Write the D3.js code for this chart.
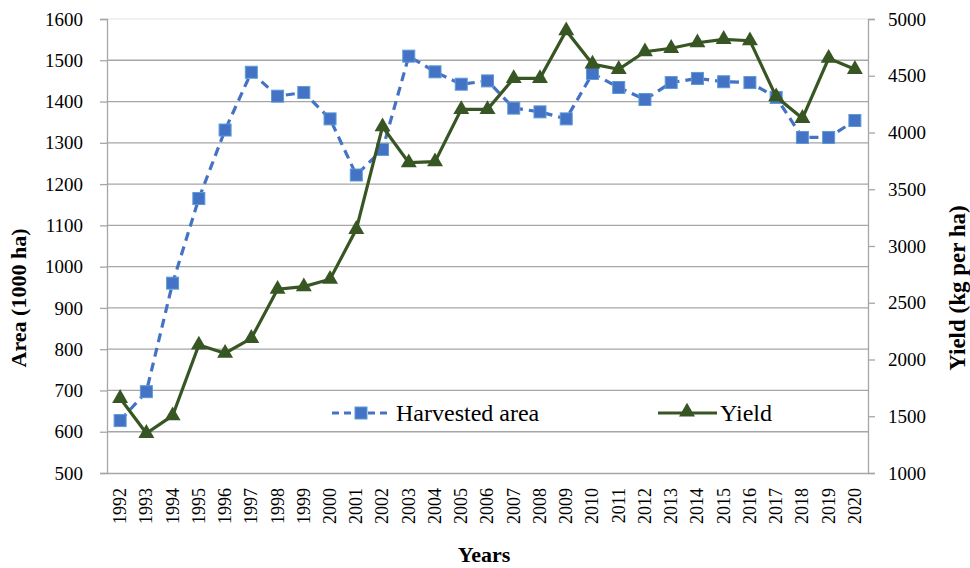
<!DOCTYPE html>
<html>
<head>
<meta charset="utf-8">
<script src="https://cdn.jsdelivr.net/npm/d3@7"></script>
<style>
  body { margin: 0; background: #fff; }
  svg { display: block; font-family: "Liberation Serif", "DejaVu Serif", serif; }
</style>
</head>
<body>
<svg width="970" height="568"></svg>
<script>
const years = ["1992","1993","1994","1995","1996","1997","1998","1999","2000","2001","2002","2003","2004","2005","2006","2007","2008","2009","2010","2011","2012","2013","2014","2015","2016","2017","2018","2019","2020"];
const harvestedArea = [627, 697, 960, 1165, 1331, 1471, 1413, 1422, 1358, 1222, 1284, 1510, 1472, 1442, 1450, 1384, 1375, 1358, 1468, 1434, 1405, 1446, 1456, 1448, 1446, 1410, 1313, 1313, 1354];
const yieldKg = [1658, 1350, 1505, 2128, 2055, 2187, 2619, 2642, 2707, 3147, 4051, 3734, 3743, 4204, 4204, 4477, 4477, 4897, 4604, 4557, 4712, 4742, 4791, 4821, 4809, 4316, 4125, 4654, 4557];
const areaTicks = [500, 600, 700, 800, 900, 1000, 1100, 1200, 1300, 1400, 1500, 1600];
const yieldTicks = [1000, 1500, 2000, 2500, 3000, 3500, 4000, 4500, 5000];

const plotLeft = 107, plotRight = 868, plotTop = 19, plotBottom = 473;
const blue = "#4472c4", green = "#375623";
const serif = "Liberation Serif";

const svg = d3.select("svg");

const x = d3.scaleBand().domain(years).range([plotLeft, plotRight]);
const yA = d3.scaleLinear().domain([500, 1600]).range([plotBottom, plotTop]);
const yY = d3.scaleLinear().domain([1000, 5000]).range([plotBottom, plotTop]);
const cx = d => x(d) + x.bandwidth() / 2;

// top border
svg.append("line")
  .attr("x1", plotLeft).attr("x2", plotRight).attr("y1", plotTop).attr("y2", plotTop)
  .attr("stroke", "#e3e3e3").attr("stroke-width", 1);

// gridlines
svg.append("g")
  .selectAll("line")
  .data(areaTicks.slice(1, -1))
  .join("line")
  .attr("x1", plotLeft).attr("x2", plotRight)
  .attr("y1", d => yA(d)).attr("y2", d => yA(d))
  .attr("stroke", "#a6a6a6").attr("stroke-width", 1.3);

// left axis
const axL = svg.append("g")
  .attr("transform", `translate(${plotLeft},0)`)
  .call(d3.axisLeft(yA).tickValues(areaTicks).tickSize(7).tickPadding(17).tickFormat(d3.format("d")));
axL.select(".domain").attr("stroke", "#a6a6a6").attr("stroke-width", 1.3);
axL.selectAll(".tick line").attr("stroke", "#a6a6a6").attr("stroke-width", 1.3);
axL.selectAll("text").attr("font-size", 19).attr("fill", "#000").attr("font-family", serif);

// right axis
const axR = svg.append("g")
  .attr("transform", `translate(${plotRight},0)`)
  .call(d3.axisRight(yY).tickValues(yieldTicks).tickSize(7).tickPadding(13).tickFormat(d3.format("d")));
axR.select(".domain").attr("stroke", "#a6a6a6").attr("stroke-width", 1.3);
axR.selectAll(".tick line").attr("stroke", "#a6a6a6").attr("stroke-width", 1.3);
axR.selectAll("text").attr("font-size", 19).attr("fill", "#000").attr("font-family", serif);

// bottom axis
const axB = svg.append("g")
  .attr("transform", `translate(0,${plotBottom})`)
  .call(d3.axisBottom(x).tickSize(0).tickPadding(0));
axB.select(".domain").attr("stroke", "#a6a6a6").attr("stroke-width", 1.3);
axB.selectAll("text")
  .attr("font-size", 18).attr("fill", "#000").attr("font-family", serif)
  .attr("text-anchor", "end")
  .attr("transform", "translate(0,15) rotate(-90)")
  .attr("x", 0).attr("y", 0).attr("dy", "0.33em");

// axis titles
svg.append("text")
  .attr("transform", "translate(26,298) rotate(-90)")
  .attr("text-anchor", "middle")
  .attr("font-family", serif).attr("font-size", 22).attr("font-weight", "bold")
  .text("Area (1000 ha)");
svg.append("text")
  .attr("transform", "translate(965,288) rotate(-90)")
  .attr("text-anchor", "middle")
  .attr("font-family", serif).attr("font-size", 23).attr("font-weight", "bold")
  .text("Yield (kg per ha)");
svg.append("text")
  .attr("x", 484).attr("y", 562)
  .attr("text-anchor", "middle")
  .attr("font-family", serif).attr("font-size", 22).attr("font-weight", "bold")
  .text("Years");

// harvested area series
const lineA = d3.line().x((d, i) => cx(years[i])).y(d => yA(d));
svg.append("path")
  .datum(harvestedArea)
  .attr("d", lineA)
  .attr("fill", "none").attr("stroke", blue).attr("stroke-width", 3.2)
  .attr("stroke-dasharray", "9,6");

const sq = 12;
svg.append("g")
  .selectAll("rect")
  .data(harvestedArea)
  .join("rect")
  .attr("x", (d, i) => cx(years[i]) - sq / 2)
  .attr("y", d => yA(d) - sq / 2)
  .attr("width", sq).attr("height", sq)
  .attr("fill", blue).attr("stroke", "#5b9bd5").attr("stroke-width", 1);

// yield series
const lineY = d3.line().x((d, i) => cx(years[i])).y(d => yY(d));
svg.append("path")
  .datum(yieldKg)
  .attr("d", lineY)
  .attr("fill", "none").attr("stroke", green).attr("stroke-width", 3.2);

const tri = d3.symbol().type(d3.symbolTriangle).size(110);
svg.append("g")
  .selectAll("path")
  .data(yieldKg)
  .join("path")
  .attr("d", tri)
  .attr("transform", (d, i) => `translate(${cx(years[i])},${yY(d)})`)
  .attr("fill", green);

// legend
const leg = svg.append("g").attr("font-family", serif).attr("font-size", 24);
leg.append("line")
  .attr("x1", 332).attr("x2", 390).attr("y1", 413).attr("y2", 413)
  .attr("stroke", blue).attr("stroke-width", 3.2).attr("stroke-dasharray", "7,5");
leg.append("rect")
  .attr("x", 361 - sq / 2).attr("y", 413 - sq / 2).attr("width", sq).attr("height", sq)
  .attr("fill", blue).attr("stroke", "#5b9bd5");
leg.append("text").attr("x", 396).attr("y", 421).text("Harvested area");

leg.append("line")
  .attr("x1", 658).attr("x2", 717).attr("y1", 413).attr("y2", 413)
  .attr("stroke", green).attr("stroke-width", 3.2);
leg.append("path")
  .attr("d", tri)
  .attr("transform", "translate(687,412)")
  .attr("fill", green);
leg.append("text").attr("x", 720).attr("y", 421).text("Yield");
</script>
</body>
</html>
